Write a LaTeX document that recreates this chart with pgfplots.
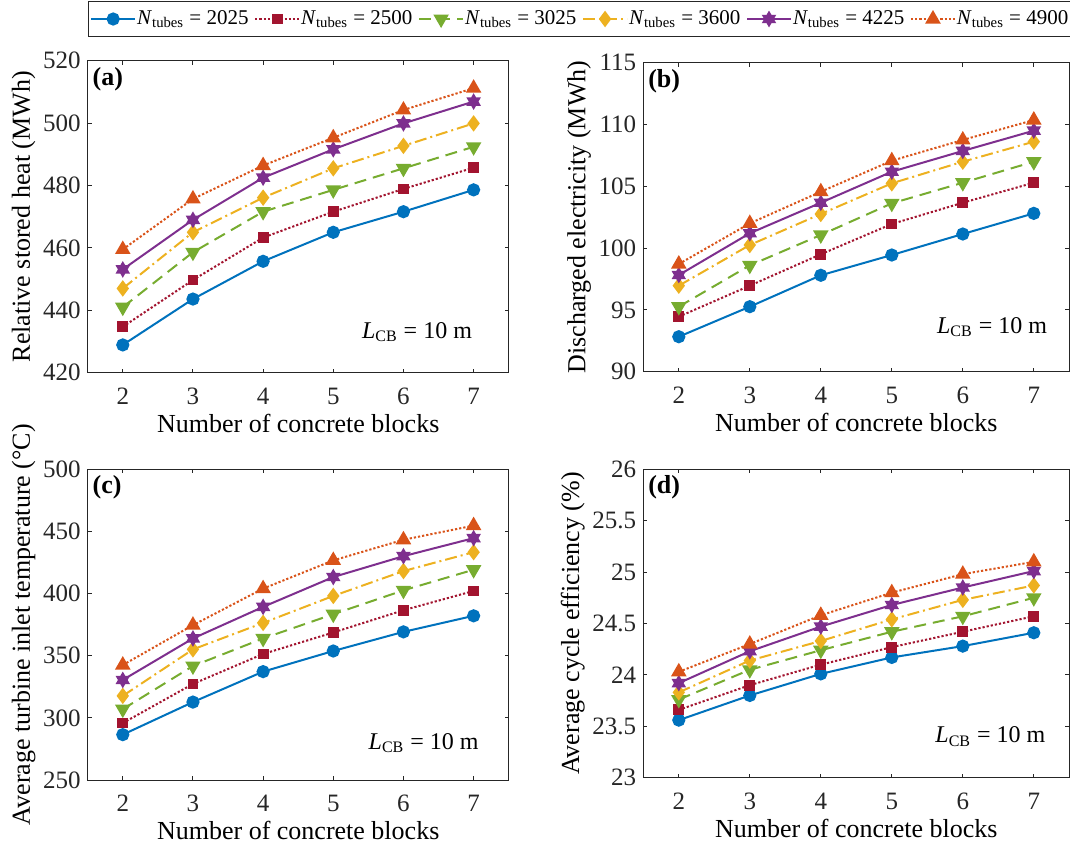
\documentclass[border=0pt]{standalone}
\usepackage{pgfplots}
\pgfplotsset{compat=1.18}
\usepackage{fontspec}
\setmainfont{Liberation Serif}

\definecolor{c1}{rgb}{0,0.447,0.741}
\definecolor{c2}{rgb}{0.635,0.078,0.184}
\definecolor{c3}{rgb}{0.466,0.674,0.188}
\definecolor{c4}{rgb}{0.929,0.694,0.125}
\definecolor{c5}{rgb}{0.494,0.184,0.556}
\definecolor{c6}{rgb}{0.851,0.325,0.098}
\definecolor{axc}{rgb}{0.15,0.15,0.15}

\pgfdeclareplotmark{hexagram}{%
  \pgfpathmoveto{\pgfqpointpolar{90}{\pgfplotmarksize}}%
  \pgfpathlineto{\pgfqpointpolar{210}{\pgfplotmarksize}}%
  \pgfpathlineto{\pgfqpointpolar{330}{\pgfplotmarksize}}%
  \pgfpathclose
  \pgfpathmoveto{\pgfqpointpolar{270}{\pgfplotmarksize}}%
  \pgfpathlineto{\pgfqpointpolar{30}{\pgfplotmarksize}}%
  \pgfpathlineto{\pgfqpointpolar{150}{\pgfplotmarksize}}%
  \pgfpathclose
  \pgfusepathqfillstroke}

\tikzset{
  plabel/.style={font=\bfseries\fontsize{13}{15}\selectfont, anchor=north west, inner sep=0pt},
  lcb/.style={font=\fontsize{12}{14}\selectfont, anchor=base east, inner sep=0pt},
}
\pgfplotsset{
  s1/.style={color=c1, solid, line width=1pt, mark=*, mark size=2.8pt, mark options={solid, fill=c1}},
  s2/.style={color=c2, line width=1pt, dash pattern=on 1.1pt off 1pt, mark=square*, mark size=2.2pt, mark options={solid, fill=c2}},
  s3/.style={color=c3, line width=1pt, dash pattern=on 6pt off 3.5pt, mark=triangle*, mark size=3.5pt, mark options={solid, fill=c3, rotate=180}},
  s4/.style={color=c4, line width=1pt, dash pattern=on 6pt off 2pt on 1pt off 2pt, mark=diamond*, mark size=3.3pt, mark options={solid, fill=c4}},
  s5/.style={color=c5, solid, line width=1pt, mark=hexagram, mark size=3.2pt, mark options={solid, fill=c5}},
  s6/.style={color=c6, line width=1pt, dash pattern=on 1.1pt off 1pt, mark=triangle*, mark size=3.5pt, mark options={solid, fill=c6}},
  panel/.style={
    scale only axis,
    xmin=1.5, xmax=7.5, xtick={2,3,4,5,6,7},
    tick align=inside, tick pos=both,
    major tick length=2pt,
    axis line style={draw=axc, line width=0.5pt},
    every tick/.style={draw=axc, line width=0.5pt},
    tick label style={font=\fontsize{12.5}{14}\selectfont, text=axc},
    xticklabel style={yshift=-4pt},
    label style={font=\fontsize{13}{15}\selectfont, text=black},
    xlabel style={yshift=2pt},
    ylabel shift=-3pt,
    /pgf/number format/assume math mode=true,
    xlabel={Number of concrete blocks},
    clip=false,
  },
}
\newcommand{\Lcb}{\textit{L}\textsubscript{CB} = 10 m}

\begin{document}
\begin{tikzpicture}
\path[use as bounding box] (0pt,0pt) rectangle (535pt,423pt);

% (a)
\begin{axis}[panel, at={(43.85pt,236.65pt)}, anchor=south west,
  width=210.5pt, height=156pt,
  ymin=420, ymax=520, ytick={420,440,...,520},
  ylabel={Relative stored heat (MWh)},
  legend columns=6,
  legend style={at={(axis description cs:0,1)}, anchor=south west, yshift=11.85pt,
    draw=axc, line width=0.5pt, fill=white, inner xsep=1pt, inner ysep=2pt,
    font=\fontsize{10.5}{13}\selectfont,
    nodes={inner xsep=1pt, inner ysep=2.5pt},
    /tikz/every odd column/.append style={column sep=-0.5pt},
    /tikz/every even column/.append style={column sep=1.8pt}},
  legend image code/.code={\draw[mark repeat=2,mark phase=2,#1] plot coordinates {(0pt,0pt) (11pt,0pt) (22pt,0pt)};},
]
\addplot[s1] coordinates {(2,428.9) (3,443.6) (4,455.7) (5,465.0) (6,471.6) (7,478.6)};
\addlegendentry{\textit{N}\textsubscript{tubes} = 2025}
\addplot[s2] coordinates {(2,434.7) (3,449.7) (4,463.3) (5,471.6) (6,478.9) (7,485.7)};
\addlegendentry{\textit{N}\textsubscript{tubes} = 2500}
\addplot[s3] coordinates {(2,441.0) (3,458.6) (4,471.6) (5,478.6) (6,485.5) (7,492.4)};
\addlegendentry{\textit{N}\textsubscript{tubes} = 3025}
\addplot[s4] coordinates {(2,447.0) (3,465.0) (4,476.1) (5,485.5) (6,492.7) (7,499.9)};
\addlegendentry{\textit{N}\textsubscript{tubes} = 3600}
\addplot[s5] coordinates {(2,453.1) (3,469.0) (4,482.5) (5,491.6) (6,499.9) (7,506.9)};
\addlegendentry{\textit{N}\textsubscript{tubes} = 4225}
\addplot[s6] coordinates {(2,459.5) (3,475.7) (4,486.4) (5,495.3) (6,504.2) (7,511.2)};
\addlegendentry{\textit{N}\textsubscript{tubes} = 4900}
\node[plabel] at (axis description cs:0,1) [xshift=2.3pt, yshift=-3pt] {(a)};
\node[lcb] at (axis description cs:0.9136,0.110) {\Lcb};
\end{axis}

% (b)
\begin{axis}[panel, at={(321.65pt,237.15pt)}, anchor=south west,
  width=213pt, height=154.5pt,
  ymin=90, ymax=115, ytick={90,95,...,115},
  ylabel={Discharged electricity (MWh)},
]
\addplot[s1] coordinates {(2,92.83) (3,95.26) (4,97.80) (5,99.44) (6,101.14) (7,102.81)};
\addplot[s2] coordinates {(2,94.45) (3,96.96) (4,99.50) (5,101.95) (6,103.67) (7,105.29)};
\addplot[s3] coordinates {(2,95.26) (3,98.60) (4,101.06) (5,103.62) (6,105.29) (7,106.99)};
\addplot[s4] coordinates {(2,96.96) (3,100.25) (4,102.76) (5,105.24) (6,106.99) (7,108.61)};
\addplot[s5] coordinates {(2,97.82) (3,101.20) (4,103.67) (5,106.18) (6,107.86) (7,109.50)};
\addplot[s6] coordinates {(2,98.71) (3,102.00) (4,104.56) (5,107.07) (6,108.75) (7,110.36)};
\node[plabel] at (axis description cs:0,1) [xshift=2.3pt, yshift=-3pt] {(b)};
\node[lcb] at (axis description cs:0.9486,0.124) {\Lcb};
\end{axis}

% (c)
\begin{axis}[panel, at={(43.85pt,33pt)}, anchor=south west,
  width=210.5pt, height=155.35pt,
  ymin=250, ymax=500, ytick={250,300,...,500},
  ylabel={Average turbine inlet temperature (°C)},
]
\addplot[s1] coordinates {(2,286.5) (3,312.7) (4,337.2) (5,353.8) (6,369.2) (7,382.1)};
\addplot[s2] coordinates {(2,295.8) (3,327.3) (4,351.4) (5,368.7) (6,386.6) (7,402.1)};
\addplot[s3] coordinates {(2,307.0) (3,341.7) (4,363.9) (5,383.4) (6,402.6) (7,419.2)};
\addplot[s4] coordinates {(2,317.7) (3,355.1) (4,376.4) (5,398.1) (6,418.1) (7,433.3)};
\addplot[s5] coordinates {(2,330.5) (3,363.9) (4,389.3) (5,413.3) (6,430.1) (7,444.6)};
\addplot[s6] coordinates {(2,342.5) (3,374.6) (4,404.0) (5,426.7) (6,443.3) (7,454.7)};
\node[plabel] at (axis description cs:0,1) [xshift=2.3pt, yshift=-3pt] {(c)};
\node[lcb] at (axis description cs:0.9295,0.099) {\Lcb};
\end{axis}

% (d)
\begin{axis}[panel, at={(321.65pt,34.15pt)}, anchor=south west,
  width=213pt, height=154.2pt,
  ymin=23, ymax=26, ytick={23,23.5,...,26},
  ylabel={Average cycle efficiency (\%)},
]
\addplot[s1] coordinates {(2,23.56) (3,23.80) (4,24.01) (5,24.17) (6,24.28) (7,24.41)};
\addplot[s2] coordinates {(2,23.66) (3,23.90) (4,24.10) (5,24.27) (6,24.42) (7,24.57)};
\addplot[s3] coordinates {(2,23.76) (3,24.05) (4,24.24) (5,24.42) (6,24.57) (7,24.75)};
\addplot[s4] coordinates {(2,23.83) (3,24.14) (4,24.33) (5,24.54) (6,24.73) (7,24.87)};
\addplot[s5] coordinates {(2,23.92) (3,24.23) (4,24.47) (5,24.68) (6,24.85) (7,25.01)};
\addplot[s6] coordinates {(2,24.03) (3,24.30) (4,24.58) (5,24.80) (6,24.98) (7,25.10)};
\node[plabel] at (axis description cs:0,1) [xshift=2.3pt, yshift=-3pt] {(d)};
\node[lcb] at (axis description cs:0.9446,0.1135) {\Lcb};
\end{axis}
\end{tikzpicture}
\end{document}
